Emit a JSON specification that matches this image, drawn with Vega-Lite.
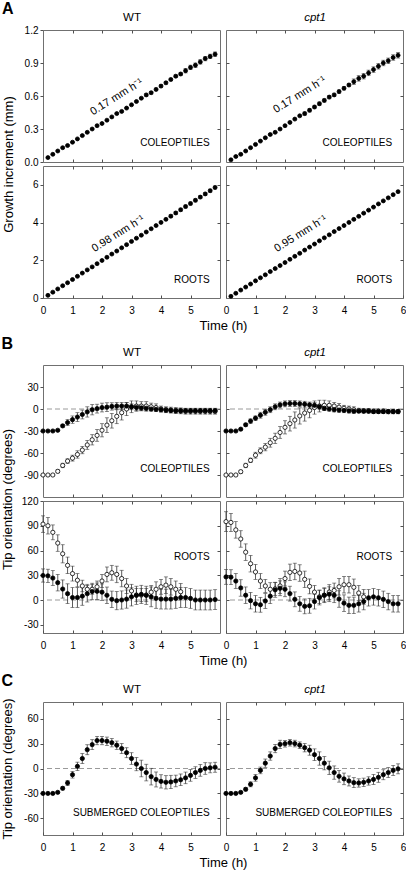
{
"$schema":"https://vega.github.io/schema/vega-lite/v6.json",
"padding":{"left":1,"top":0,"right":2,"bottom":2},
"background":"white",
"config":{
 "font":"Liberation Sans",
 "view":{"stroke":"#707070","strokeWidth":1},
 "axis":{"domain":false,"grid":false,"labelOverlap":false,"labelFlush":false,"tickCount":20,"tickColor":"#505050","tickWidth":1,"labelFont":"Liberation Sans","labelFontSize":10,"labelColor":"#000","titleFont":"Liberation Sans","titleFontSize":13,"titleFontWeight":"normal","titleColor":"#000"},
 "title":{"font":"Liberation Sans","fontSize":16,"fontWeight":"bold","offset":-5,"color":"#000","anchor":"start","frame":"bounds"},
 "text":{"font":"Liberation Sans","fontSize":10,"color":"#000"}
},
"datasets":{
"AcW":[{"s":"f","t":0.167,"v":0.04,"e":0.005},{"s":"f","t":0.333,"v":0.07,"e":0.005},{"s":"f","t":0.5,"v":0.10,"e":0.005},{"s":"f","t":0.667,"v":0.13,"e":0.005},{"s":"f","t":0.833,"v":0.15,"e":0.005},{"s":"f","t":1,"v":0.18,"e":0.005},{"s":"f","t":1.167,"v":0.21,"e":0.005},{"s":"f","t":1.333,"v":0.24,"e":0.005},{"s":"f","t":1.5,"v":0.27,"e":0.005},{"s":"f","t":1.667,"v":0.30,"e":0.005},{"s":"f","t":1.833,"v":0.33,"e":0.005},{"s":"f","t":2,"v":0.35,"e":0.005},{"s":"f","t":2.167,"v":0.38,"e":0.005},{"s":"f","t":2.333,"v":0.41,"e":0.005},{"s":"f","t":2.5,"v":0.44,"e":0.005},{"s":"f","t":2.667,"v":0.46,"e":0.005},{"s":"f","t":2.833,"v":0.49,"e":0.005},{"s":"f","t":3,"v":0.52,"e":0.005},{"s":"f","t":3.167,"v":0.55,"e":0.005},{"s":"f","t":3.333,"v":0.58,"e":0.005},{"s":"f","t":3.5,"v":0.61,"e":0.012},{"s":"f","t":3.667,"v":0.63,"e":0.012},{"s":"f","t":3.833,"v":0.66,"e":0.012},{"s":"f","t":4,"v":0.69,"e":0.012},{"s":"f","t":4.167,"v":0.72,"e":0.012},{"s":"f","t":4.333,"v":0.75,"e":0.012},{"s":"f","t":4.5,"v":0.78,"e":0.012},{"s":"f","t":4.667,"v":0.80,"e":0.012},{"s":"f","t":4.833,"v":0.83,"e":0.02},{"s":"f","t":5,"v":0.86,"e":0.02},{"s":"f","t":5.167,"v":0.88,"e":0.02},{"s":"f","t":5.333,"v":0.91,"e":0.02},{"s":"f","t":5.5,"v":0.94,"e":0.02},{"s":"f","t":5.667,"v":0.96,"e":0.02},{"s":"f","t":5.833,"v":0.98,"e":0.02}],
"AcC":[{"s":"f","t":0.167,"v":0.02,"e":0.005},{"s":"f","t":0.333,"v":0.05,"e":0.005},{"s":"f","t":0.5,"v":0.07,"e":0.005},{"s":"f","t":0.667,"v":0.10,"e":0.005},{"s":"f","t":0.833,"v":0.13,"e":0.005},{"s":"f","t":1,"v":0.16,"e":0.005},{"s":"f","t":1.167,"v":0.19,"e":0.005},{"s":"f","t":1.333,"v":0.22,"e":0.005},{"s":"f","t":1.5,"v":0.25,"e":0.005},{"s":"f","t":1.667,"v":0.27,"e":0.005},{"s":"f","t":1.833,"v":0.30,"e":0.005},{"s":"f","t":2,"v":0.33,"e":0.005},{"s":"f","t":2.167,"v":0.36,"e":0.005},{"s":"f","t":2.333,"v":0.39,"e":0.005},{"s":"f","t":2.5,"v":0.42,"e":0.005},{"s":"f","t":2.667,"v":0.44,"e":0.015},{"s":"f","t":2.833,"v":0.47,"e":0.015},{"s":"f","t":3,"v":0.50,"e":0.015},{"s":"f","t":3.167,"v":0.53,"e":0.015},{"s":"f","t":3.333,"v":0.56,"e":0.015},{"s":"f","t":3.5,"v":0.59,"e":0.015},{"s":"f","t":3.667,"v":0.61,"e":0.015},{"s":"f","t":3.833,"v":0.64,"e":0.015},{"s":"f","t":4,"v":0.67,"e":0.015},{"s":"f","t":4.167,"v":0.70,"e":0.015},{"s":"f","t":4.333,"v":0.73,"e":0.025},{"s":"f","t":4.5,"v":0.76,"e":0.025},{"s":"f","t":4.667,"v":0.78,"e":0.025},{"s":"f","t":4.833,"v":0.81,"e":0.025},{"s":"f","t":5,"v":0.84,"e":0.025},{"s":"f","t":5.167,"v":0.87,"e":0.025},{"s":"f","t":5.333,"v":0.90,"e":0.025},{"s":"f","t":5.5,"v":0.92,"e":0.025},{"s":"f","t":5.667,"v":0.95,"e":0.025},{"s":"f","t":5.833,"v":0.97,"e":0.025}],
"ArW":[{"s":"f","t":0.167,"v":0.14,"e":0.03},{"s":"f","t":0.333,"v":0.31,"e":0.03},{"s":"f","t":0.5,"v":0.48,"e":0.03},{"s":"f","t":0.667,"v":0.65,"e":0.03},{"s":"f","t":0.833,"v":0.81,"e":0.03},{"s":"f","t":1,"v":0.98,"e":0.03},{"s":"f","t":1.167,"v":1.15,"e":0.03},{"s":"f","t":1.333,"v":1.32,"e":0.03},{"s":"f","t":1.5,"v":1.49,"e":0.03},{"s":"f","t":1.667,"v":1.65,"e":0.03},{"s":"f","t":1.833,"v":1.82,"e":0.03},{"s":"f","t":2,"v":1.99,"e":0.03},{"s":"f","t":2.167,"v":2.16,"e":0.03},{"s":"f","t":2.333,"v":2.33,"e":0.03},{"s":"f","t":2.5,"v":2.49,"e":0.03},{"s":"f","t":2.667,"v":2.66,"e":0.03},{"s":"f","t":2.833,"v":2.83,"e":0.03},{"s":"f","t":3,"v":3.00,"e":0.03},{"s":"f","t":3.167,"v":3.17,"e":0.03},{"s":"f","t":3.333,"v":3.33,"e":0.03},{"s":"f","t":3.5,"v":3.50,"e":0.03},{"s":"f","t":3.667,"v":3.67,"e":0.03},{"s":"f","t":3.833,"v":3.84,"e":0.03},{"s":"f","t":4,"v":4.01,"e":0.03},{"s":"f","t":4.167,"v":4.17,"e":0.03},{"s":"f","t":4.333,"v":4.34,"e":0.08},{"s":"f","t":4.5,"v":4.51,"e":0.08},{"s":"f","t":4.667,"v":4.68,"e":0.08},{"s":"f","t":4.833,"v":4.85,"e":0.08},{"s":"f","t":5,"v":5.01,"e":0.08},{"s":"f","t":5.167,"v":5.18,"e":0.08},{"s":"f","t":5.333,"v":5.35,"e":0.08},{"s":"f","t":5.5,"v":5.52,"e":0.08},{"s":"f","t":5.667,"v":5.69,"e":0.08},{"s":"f","t":5.833,"v":5.86,"e":0.08}],
"ArC":[{"s":"f","t":0.167,"v":0.09,"e":0.03},{"s":"f","t":0.333,"v":0.25,"e":0.03},{"s":"f","t":0.5,"v":0.42,"e":0.03},{"s":"f","t":0.667,"v":0.58,"e":0.03},{"s":"f","t":0.833,"v":0.74,"e":0.03},{"s":"f","t":1,"v":0.91,"e":0.03},{"s":"f","t":1.167,"v":1.07,"e":0.03},{"s":"f","t":1.333,"v":1.23,"e":0.03},{"s":"f","t":1.5,"v":1.40,"e":0.03},{"s":"f","t":1.667,"v":1.56,"e":0.03},{"s":"f","t":1.833,"v":1.72,"e":0.03},{"s":"f","t":2,"v":1.88,"e":0.03},{"s":"f","t":2.167,"v":2.05,"e":0.03},{"s":"f","t":2.333,"v":2.21,"e":0.03},{"s":"f","t":2.5,"v":2.37,"e":0.03},{"s":"f","t":2.667,"v":2.54,"e":0.03},{"s":"f","t":2.833,"v":2.70,"e":0.03},{"s":"f","t":3,"v":2.86,"e":0.03},{"s":"f","t":3.167,"v":3.03,"e":0.03},{"s":"f","t":3.333,"v":3.19,"e":0.03},{"s":"f","t":3.5,"v":3.35,"e":0.03},{"s":"f","t":3.667,"v":3.52,"e":0.03},{"s":"f","t":3.833,"v":3.68,"e":0.03},{"s":"f","t":4,"v":3.84,"e":0.03},{"s":"f","t":4.167,"v":4.01,"e":0.03},{"s":"f","t":4.333,"v":4.17,"e":0.03},{"s":"f","t":4.5,"v":4.33,"e":0.03},{"s":"f","t":4.667,"v":4.50,"e":0.03},{"s":"f","t":4.833,"v":4.66,"e":0.03},{"s":"f","t":5,"v":4.82,"e":0.03},{"s":"f","t":5.167,"v":4.99,"e":0.03},{"s":"f","t":5.333,"v":5.15,"e":0.03},{"s":"f","t":5.5,"v":5.31,"e":0.03},{"s":"f","t":5.667,"v":5.48,"e":0.03},{"s":"f","t":5.833,"v":5.64,"e":0.03}],
"BcW":[{"s":"o","t":0,"v":-90,"e":0},{"s":"o","t":0.167,"v":-90,"e":0},{"s":"o","t":0.333,"v":-90,"e":0},{"s":"o","t":0.5,"v":-85,"e":2},{"s":"o","t":0.667,"v":-77,"e":3},{"s":"o","t":0.833,"v":-71,"e":3},{"s":"o","t":1,"v":-67,"e":4},{"s":"o","t":1.167,"v":-62,"e":5},{"s":"o","t":1.333,"v":-56,"e":5},{"s":"o","t":1.5,"v":-49,"e":6},{"s":"o","t":1.667,"v":-42,"e":7},{"s":"o","t":1.833,"v":-36,"e":8},{"s":"o","t":2,"v":-29,"e":9},{"s":"o","t":2.167,"v":-22,"e":10},{"s":"o","t":2.333,"v":-16,"e":10},{"s":"o","t":2.5,"v":-10,"e":10},{"s":"o","t":2.667,"v":-5,"e":10},{"s":"o","t":2.833,"v":0,"e":9},{"s":"o","t":3,"v":3,"e":8},{"s":"o","t":3.167,"v":4,"e":7},{"s":"o","t":3.333,"v":4,"e":6},{"s":"o","t":3.5,"v":4,"e":6},{"s":"o","t":3.667,"v":3,"e":5},{"s":"o","t":3.833,"v":2,"e":5},{"s":"o","t":4,"v":0,"e":4},{"s":"o","t":4.167,"v":-1,"e":4},{"s":"o","t":4.333,"v":-1.5,"e":4},{"s":"o","t":4.5,"v":-2,"e":4},{"s":"o","t":4.667,"v":-2.5,"e":4},{"s":"o","t":4.833,"v":-3,"e":4},{"s":"o","t":5,"v":-3,"e":4},{"s":"o","t":5.167,"v":-3,"e":4},{"s":"o","t":5.333,"v":-3,"e":4},{"s":"o","t":5.5,"v":-3,"e":4},{"s":"o","t":5.667,"v":-3,"e":4},{"s":"o","t":5.833,"v":-3,"e":4},
{"s":"f","t":0,"v":-30,"e":0},{"s":"f","t":0.167,"v":-30,"e":0},{"s":"f","t":0.333,"v":-30,"e":0},{"s":"f","t":0.5,"v":-29,"e":1},{"s":"f","t":0.667,"v":-23,"e":2},{"s":"f","t":0.833,"v":-18.5,"e":4},{"s":"f","t":1,"v":-14.5,"e":5},{"s":"f","t":1.167,"v":-11,"e":6},{"s":"f","t":1.333,"v":-7.5,"e":6},{"s":"f","t":1.5,"v":-4,"e":7},{"s":"f","t":1.667,"v":-1,"e":7},{"s":"f","t":1.833,"v":0.5,"e":6},{"s":"f","t":2,"v":2,"e":6},{"s":"f","t":2.167,"v":2.5,"e":6},{"s":"f","t":2.333,"v":3.5,"e":5},{"s":"f","t":2.5,"v":4,"e":5},{"s":"f","t":2.667,"v":4,"e":5},{"s":"f","t":2.833,"v":4,"e":5},{"s":"f","t":3,"v":3,"e":4},{"s":"f","t":3.167,"v":2,"e":4},{"s":"f","t":3.333,"v":1.5,"e":4},{"s":"f","t":3.5,"v":1,"e":4},{"s":"f","t":3.667,"v":0,"e":3},{"s":"f","t":3.833,"v":-0.5,"e":3},{"s":"f","t":4,"v":-1,"e":3},{"s":"f","t":4.167,"v":-1.5,"e":3},{"s":"f","t":4.333,"v":-2,"e":3},{"s":"f","t":4.5,"v":-2.5,"e":3},{"s":"f","t":4.667,"v":-2.5,"e":3},{"s":"f","t":4.833,"v":-2.5,"e":3},{"s":"f","t":5,"v":-2.5,"e":3},{"s":"f","t":5.167,"v":-2.5,"e":3},{"s":"f","t":5.333,"v":-2.5,"e":3},{"s":"f","t":5.5,"v":-2.5,"e":3},{"s":"f","t":5.667,"v":-2.5,"e":3},{"s":"f","t":5.833,"v":-2.5,"e":3}],
"BcC":[{"s":"o","t":0,"v":-90,"e":0},{"s":"o","t":0.167,"v":-90,"e":0},{"s":"o","t":0.333,"v":-90,"e":0},{"s":"o","t":0.5,"v":-85.5,"e":2},{"s":"o","t":0.667,"v":-77,"e":3},{"s":"o","t":0.833,"v":-70,"e":3},{"s":"o","t":1,"v":-63,"e":4},{"s":"o","t":1.167,"v":-57,"e":4},{"s":"o","t":1.333,"v":-52,"e":5},{"s":"o","t":1.5,"v":-46,"e":6},{"s":"o","t":1.667,"v":-40,"e":7},{"s":"o","t":1.833,"v":-32,"e":8},{"s":"o","t":2,"v":-25,"e":9},{"s":"o","t":2.167,"v":-20,"e":10},{"s":"o","t":2.333,"v":-15,"e":11},{"s":"o","t":2.5,"v":-9.5,"e":11},{"s":"o","t":2.667,"v":-5.5,"e":11},{"s":"o","t":2.833,"v":-2,"e":10},{"s":"o","t":3,"v":2,"e":9},{"s":"o","t":3.167,"v":4,"e":8},{"s":"o","t":3.333,"v":5,"e":7},{"s":"o","t":3.5,"v":5,"e":6},{"s":"o","t":3.667,"v":4,"e":5},{"s":"o","t":3.833,"v":2.5,"e":5},{"s":"o","t":4,"v":1,"e":4},{"s":"o","t":4.167,"v":0,"e":4},{"s":"o","t":4.333,"v":-1,"e":4},{"s":"o","t":4.5,"v":-2,"e":3},{"s":"o","t":4.667,"v":-2.5,"e":3},{"s":"o","t":4.833,"v":-2.5,"e":3},{"s":"o","t":5,"v":-3,"e":3},{"s":"o","t":5.167,"v":-3,"e":3},{"s":"o","t":5.333,"v":-3,"e":3},{"s":"o","t":5.5,"v":-3.5,"e":3},{"s":"o","t":5.667,"v":-3.5,"e":3},{"s":"o","t":5.833,"v":-3.5,"e":3},
{"s":"f","t":0,"v":-30,"e":0},{"s":"f","t":0.167,"v":-30,"e":0},{"s":"f","t":0.333,"v":-30,"e":0},{"s":"f","t":0.5,"v":-27.5,"e":1},{"s":"f","t":0.667,"v":-21.5,"e":2},{"s":"f","t":0.833,"v":-16.5,"e":3},{"s":"f","t":1,"v":-12.5,"e":3},{"s":"f","t":1.167,"v":-8.5,"e":4},{"s":"f","t":1.333,"v":-4.5,"e":4},{"s":"f","t":1.5,"v":-1,"e":4},{"s":"f","t":1.667,"v":3,"e":4},{"s":"f","t":1.833,"v":5.5,"e":4},{"s":"f","t":2,"v":7,"e":4},{"s":"f","t":2.167,"v":7.5,"e":4},{"s":"f","t":2.333,"v":7.5,"e":4},{"s":"f","t":2.5,"v":7,"e":4},{"s":"f","t":2.667,"v":6.5,"e":4},{"s":"f","t":2.833,"v":5.5,"e":4},{"s":"f","t":3,"v":5,"e":4},{"s":"f","t":3.167,"v":3,"e":3},{"s":"f","t":3.333,"v":1,"e":3},{"s":"f","t":3.5,"v":0,"e":3},{"s":"f","t":3.667,"v":-1,"e":3},{"s":"f","t":3.833,"v":-1.5,"e":3},{"s":"f","t":4,"v":-2,"e":3},{"s":"f","t":4.167,"v":-2.5,"e":3},{"s":"f","t":4.333,"v":-3,"e":3},{"s":"f","t":4.5,"v":-3,"e":2},{"s":"f","t":4.667,"v":-3,"e":2},{"s":"f","t":4.833,"v":-3,"e":2},{"s":"f","t":5,"v":-3.5,"e":2},{"s":"f","t":5.167,"v":-3.5,"e":2},{"s":"f","t":5.333,"v":-3.5,"e":2},{"s":"f","t":5.5,"v":-3.5,"e":2},{"s":"f","t":5.667,"v":-3.5,"e":2},{"s":"f","t":5.833,"v":-3.5,"e":2}],
"BrW":[{"s":"o","t":0,"v":92,"e":10},{"s":"o","t":0.167,"v":90,"e":10},{"s":"o","t":0.333,"v":82,"e":9},{"s":"o","t":0.5,"v":69,"e":10},{"s":"o","t":0.667,"v":56,"e":11},{"s":"o","t":0.833,"v":42,"e":10},{"s":"o","t":1,"v":32,"e":9},{"s":"o","t":1.167,"v":24,"e":8},{"s":"o","t":1.333,"v":17,"e":7},{"s":"o","t":1.5,"v":13,"e":6},{"s":"o","t":1.667,"v":13,"e":6},{"s":"o","t":1.833,"v":16,"e":7},{"s":"o","t":2,"v":23,"e":8},{"s":"o","t":2.167,"v":31,"e":9},{"s":"o","t":2.333,"v":33,"e":9},{"s":"o","t":2.5,"v":31,"e":10},{"s":"o","t":2.667,"v":26,"e":10},{"s":"o","t":2.833,"v":17,"e":9},{"s":"o","t":3,"v":11,"e":8},{"s":"o","t":3.167,"v":6,"e":8},{"s":"o","t":3.333,"v":6,"e":8},{"s":"o","t":3.5,"v":6,"e":8},{"s":"o","t":3.667,"v":9.5,"e":8},{"s":"o","t":3.833,"v":13,"e":9},{"s":"o","t":4,"v":16,"e":9},{"s":"o","t":4.167,"v":18,"e":10},{"s":"o","t":4.333,"v":16,"e":10},{"s":"o","t":4.5,"v":13,"e":10},{"s":"o","t":4.667,"v":10,"e":10},
{"s":"f","t":0,"v":29.7,"e":8},{"s":"f","t":0.167,"v":29.3,"e":8},{"s":"f","t":0.333,"v":26.6,"e":9},{"s":"f","t":0.5,"v":21,"e":10},{"s":"f","t":0.667,"v":13.3,"e":11},{"s":"f","t":0.833,"v":7.6,"e":12},{"s":"f","t":1,"v":3,"e":12},{"s":"f","t":1.167,"v":3,"e":12},{"s":"f","t":1.333,"v":4.6,"e":11},{"s":"f","t":1.5,"v":7.6,"e":10},{"s":"f","t":1.667,"v":10.3,"e":10},{"s":"f","t":1.833,"v":10.6,"e":10},{"s":"f","t":2,"v":9.5,"e":10},{"s":"f","t":2.167,"v":5.7,"e":10},{"s":"f","t":2.333,"v":0.8,"e":10},{"s":"f","t":2.5,"v":-0.8,"e":11},{"s":"f","t":2.667,"v":0,"e":11},{"s":"f","t":2.833,"v":1.1,"e":11},{"s":"f","t":3,"v":3.8,"e":11},{"s":"f","t":3.167,"v":5.7,"e":11},{"s":"f","t":3.333,"v":6.8,"e":11},{"s":"f","t":3.5,"v":5.7,"e":11},{"s":"f","t":3.667,"v":3.8,"e":12},{"s":"f","t":3.833,"v":1.9,"e":12},{"s":"f","t":4,"v":1.1,"e":12},{"s":"f","t":4.167,"v":1.1,"e":12},{"s":"f","t":4.333,"v":1.1,"e":12},{"s":"f","t":4.5,"v":1.9,"e":12},{"s":"f","t":4.667,"v":3,"e":12},{"s":"f","t":4.833,"v":3,"e":12},{"s":"f","t":5,"v":1.9,"e":12},{"s":"f","t":5.167,"v":0,"e":12},{"s":"f","t":5.333,"v":0,"e":12},{"s":"f","t":5.5,"v":0,"e":12},{"s":"f","t":5.667,"v":0,"e":12},{"s":"f","t":5.833,"v":0.5,"e":12}],
"BrC":[{"s":"o","t":0,"v":95,"e":12},{"s":"o","t":0.167,"v":94,"e":11},{"s":"o","t":0.333,"v":85,"e":10},{"s":"o","t":0.5,"v":74,"e":10},{"s":"o","t":0.667,"v":58,"e":10},{"s":"o","t":0.833,"v":44,"e":10},{"s":"o","t":1,"v":34,"e":9},{"s":"o","t":1.167,"v":23,"e":9},{"s":"o","t":1.333,"v":17,"e":8},{"s":"o","t":1.5,"v":13,"e":8},{"s":"o","t":1.667,"v":13.5,"e":8},{"s":"o","t":1.833,"v":17,"e":9},{"s":"o","t":2,"v":26,"e":9},{"s":"o","t":2.167,"v":33.5,"e":10},{"s":"o","t":2.333,"v":34.6,"e":10},{"s":"o","t":2.5,"v":32.7,"e":10},{"s":"o","t":2.667,"v":25,"e":10},{"s":"o","t":2.833,"v":16.5,"e":9},{"s":"o","t":3,"v":9.6,"e":8},{"s":"o","t":3.167,"v":3.8,"e":8},{"s":"o","t":3.333,"v":5.8,"e":8},{"s":"o","t":3.5,"v":9.6,"e":9},{"s":"o","t":3.667,"v":11.5,"e":9},{"s":"o","t":3.833,"v":16,"e":10},{"s":"o","t":4,"v":18.5,"e":10},{"s":"o","t":4.167,"v":18.5,"e":10},{"s":"o","t":4.333,"v":15.4,"e":10},{"s":"o","t":4.5,"v":8.5,"e":9},{"s":"o","t":4.667,"v":3.8,"e":9},
{"s":"f","t":0,"v":28,"e":9},{"s":"f","t":0.167,"v":27.7,"e":9},{"s":"f","t":0.333,"v":23,"e":9},{"s":"f","t":0.5,"v":14.6,"e":10},{"s":"f","t":0.667,"v":5.8,"e":10},{"s":"f","t":0.833,"v":-0.8,"e":10},{"s":"f","t":1,"v":-4.6,"e":10},{"s":"f","t":1.167,"v":-5.8,"e":9},{"s":"f","t":1.333,"v":-1.2,"e":9},{"s":"f","t":1.5,"v":4.6,"e":9},{"s":"f","t":1.667,"v":12.3,"e":9},{"s":"f","t":1.833,"v":14.2,"e":9},{"s":"f","t":2,"v":13,"e":9},{"s":"f","t":2.167,"v":7.7,"e":9},{"s":"f","t":2.333,"v":0.8,"e":9},{"s":"f","t":2.5,"v":-4.6,"e":9},{"s":"f","t":2.667,"v":-7.7,"e":9},{"s":"f","t":2.833,"v":-7,"e":9},{"s":"f","t":3,"v":-1.9,"e":9},{"s":"f","t":3.167,"v":3,"e":9},{"s":"f","t":3.333,"v":5.8,"e":9},{"s":"f","t":3.5,"v":7,"e":9},{"s":"f","t":3.667,"v":5.8,"e":9},{"s":"f","t":3.833,"v":1.2,"e":10},{"s":"f","t":4,"v":-3.8,"e":10},{"s":"f","t":4.167,"v":-6.5,"e":10},{"s":"f","t":4.333,"v":-6.5,"e":10},{"s":"f","t":4.5,"v":-4.6,"e":10},{"s":"f","t":4.667,"v":-1.9,"e":10},{"s":"f","t":4.833,"v":2.7,"e":10},{"s":"f","t":5,"v":3.8,"e":10},{"s":"f","t":5.167,"v":2.7,"e":10},{"s":"f","t":5.333,"v":0.8,"e":10},{"s":"f","t":5.5,"v":-1.9,"e":10},{"s":"f","t":5.667,"v":-4.6,"e":10},{"s":"f","t":5.833,"v":-4.6,"e":10}],
"CW":[{"s":"f","t":0,"v":-30,"e":0},{"s":"f","t":0.167,"v":-30,"e":0},{"s":"f","t":0.333,"v":-30,"e":0},{"s":"f","t":0.5,"v":-28.7,"e":1},{"s":"f","t":0.667,"v":-23.8,"e":2},{"s":"f","t":0.833,"v":-17.4,"e":3},{"s":"f","t":1,"v":-7.5,"e":4},{"s":"f","t":1.167,"v":2.6,"e":5},{"s":"f","t":1.333,"v":12,"e":6},{"s":"f","t":1.5,"v":22.6,"e":6},{"s":"f","t":1.667,"v":28.7,"e":6},{"s":"f","t":1.833,"v":33.6,"e":5},{"s":"f","t":2,"v":33.6,"e":5},{"s":"f","t":2.167,"v":32.8,"e":5},{"s":"f","t":2.333,"v":31,"e":5},{"s":"f","t":2.5,"v":28,"e":5},{"s":"f","t":2.667,"v":24,"e":6},{"s":"f","t":2.833,"v":19,"e":6},{"s":"f","t":3,"v":12,"e":7},{"s":"f","t":3.167,"v":5.3,"e":8},{"s":"f","t":3.333,"v":0,"e":10},{"s":"f","t":3.5,"v":-4.9,"e":10},{"s":"f","t":3.667,"v":-9.8,"e":10},{"s":"f","t":3.833,"v":-13.2,"e":9},{"s":"f","t":4,"v":-15.5,"e":8},{"s":"f","t":4.167,"v":-16.6,"e":8},{"s":"f","t":4.333,"v":-16.2,"e":8},{"s":"f","t":4.5,"v":-15,"e":7},{"s":"f","t":4.667,"v":-13.6,"e":7},{"s":"f","t":4.833,"v":-11.3,"e":7},{"s":"f","t":5,"v":-8.3,"e":7},{"s":"f","t":5.167,"v":-4.9,"e":7},{"s":"f","t":5.333,"v":-2.3,"e":7},{"s":"f","t":5.5,"v":0,"e":7},{"s":"f","t":5.667,"v":0.8,"e":6},{"s":"f","t":5.833,"v":1.5,"e":6}],
"CC":[{"s":"f","t":0,"v":-30,"e":0},{"s":"f","t":0.167,"v":-30,"e":0},{"s":"f","t":0.333,"v":-30,"e":0},{"s":"f","t":0.5,"v":-28.7,"e":1},{"s":"f","t":0.667,"v":-25,"e":2},{"s":"f","t":0.833,"v":-19,"e":3},{"s":"f","t":1,"v":-11.3,"e":4},{"s":"f","t":1.167,"v":-2.3,"e":4},{"s":"f","t":1.333,"v":6.4,"e":5},{"s":"f","t":1.5,"v":15,"e":5},{"s":"f","t":1.667,"v":24,"e":5},{"s":"f","t":1.833,"v":29,"e":5},{"s":"f","t":2,"v":29.8,"e":4},{"s":"f","t":2.167,"v":31,"e":4},{"s":"f","t":2.333,"v":30,"e":4},{"s":"f","t":2.5,"v":28,"e":4},{"s":"f","t":2.667,"v":25,"e":5},{"s":"f","t":2.833,"v":22,"e":6},{"s":"f","t":3,"v":16.6,"e":7},{"s":"f","t":3.167,"v":12,"e":8},{"s":"f","t":3.333,"v":6.4,"e":8},{"s":"f","t":3.5,"v":0.8,"e":8},{"s":"f","t":3.667,"v":-4.9,"e":8},{"s":"f","t":3.833,"v":-9.4,"e":7},{"s":"f","t":4,"v":-12.5,"e":7},{"s":"f","t":4.167,"v":-15,"e":6},{"s":"f","t":4.333,"v":-17,"e":6},{"s":"f","t":4.5,"v":-17.4,"e":5},{"s":"f","t":4.667,"v":-16.6,"e":5},{"s":"f","t":4.833,"v":-15,"e":5},{"s":"f","t":5,"v":-13.2,"e":6},{"s":"f","t":5.167,"v":-10.6,"e":6},{"s":"f","t":5.333,"v":-7.5,"e":6},{"s":"f","t":5.5,"v":-4.9,"e":6},{"s":"f","t":5.667,"v":-2.3,"e":6},{"s":"f","t":5.833,"v":-0.4,"e":6}]
},
"columns":2,
"spacing":{"row":4,"column":6},
"bounds":"flush",
"concat":[
 {"width":177,"height":132,"title":{"text":"A"},"data":{"name":"AcW"},
  "layer":[
   {"layer":[
    {"mark":{"type":"errorbar","ticks":true,"size":4,"thickness":0.8,"color":"#333"},
     "encoding":{"x":{"field":"t","type":"quantitative","scale":{"domain":[0,6]},"axis":{"orient":"bottom","values":[1,2,3,4,5],"tickCount":20,"labels":false,"tickSize":-3,"title":null}},
      "y":{"field":"v","type":"quantitative","scale":{"domain":[0,1.2]},"axis":{"orient":"left","values":[0,0.3,0.6,0.9,1.2],"tickCount":20,"format":".1f","labelOverlap":false,"tickSize":3,"labelPadding":2,"title":"Growth increment (mm)","titleY":134,"titlePadding":9}},
      "yError":{"field":"e"}}},
    {"mark":{"type":"point","size":16,"strokeWidth":0.8,"opacity":1,"stroke":"#000"},
     "encoding":{"x":{"field":"t","type":"quantitative"},"y":{"field":"v","type":"quantitative"},"fill":{"field":"s","type":"nominal","scale":{"domain":["f","o"],"range":["#000","#fff"]},"legend":null}}},
    {"data":{"values":[{"t":2.5,"v":0.59,"txt":"0.17 mm h⁻¹"}]},"mark":{"type":"text","angle":-32,"fontSize":11},
     "encoding":{"x":{"field":"t","type":"quantitative"},"y":{"field":"v","type":"quantitative"},"text":{"field":"txt"}}}
   ]},
   {"data":{"values":[{"t":5.65,"v":0.17,"txt":"COLEOPTILES"}]},"mark":{"type":"text","align":"right","fontSize":10},
    "encoding":{"x":{"field":"t","type":"quantitative","axis":{"orient":"top","values":[1,2,3,4,5],"tickCount":20,"labels":false,"tickSize":-3,"title":"WT","titleFontSize":11.5,"titlePadding":7}},
     "y":{"field":"v","type":"quantitative","axis":{"orient":"right","values":[0.3,0.6,0.9],"tickCount":20,"labels":false,"tickSize":-3,"title":null}},"text":{"field":"txt"}}}
  ],
  "resolve":{"axis":{"x":"independent","y":"independent"}}},
 {"width":177,"height":132,"data":{"name":"AcC"},
  "layer":[
   {"layer":[
    {"mark":{"type":"errorbar","ticks":true,"size":4,"thickness":0.8,"color":"#333"},
     "encoding":{"x":{"field":"t","type":"quantitative","scale":{"domain":[0,6]},"axis":{"orient":"bottom","values":[1,2,3,4,5],"tickCount":20,"labels":false,"tickSize":-3,"title":null}},
      "y":{"field":"v","type":"quantitative","scale":{"domain":[0,1.2]},"axis":{"orient":"left","values":[0.3,0.6,0.9],"tickCount":20,"labels":false,"tickSize":-3,"title":null}},
      "yError":{"field":"e"}}},
    {"mark":{"type":"point","size":16,"strokeWidth":0.8,"opacity":1,"stroke":"#000"},
     "encoding":{"x":{"field":"t","type":"quantitative"},"y":{"field":"v","type":"quantitative"},"fill":{"field":"s","type":"nominal","scale":{"domain":["f","o"],"range":["#000","#fff"]},"legend":null}}},
    {"data":{"values":[{"t":2.5,"v":0.61,"txt":"0.17 mm h⁻¹"}]},"mark":{"type":"text","angle":-32,"fontSize":11},
     "encoding":{"x":{"field":"t","type":"quantitative"},"y":{"field":"v","type":"quantitative"},"text":{"field":"txt"}}}
   ]},
   {"data":{"values":[{"t":5.63,"v":0.17,"txt":"COLEOPTILES"}]},"mark":{"type":"text","align":"right","fontSize":10},
    "encoding":{"x":{"field":"t","type":"quantitative","axis":{"orient":"top","values":[1,2,3,4,5],"tickCount":20,"labels":false,"tickSize":-3,"title":"cpt1","titleFontStyle":"italic","titleFontSize":11.5,"titlePadding":7}},
     "y":{"field":"v","type":"quantitative","axis":{"orient":"right","values":[0.3,0.6,0.9],"tickCount":20,"labels":false,"tickSize":-3,"title":null}},"text":{"field":"txt"}}}
  ],
  "resolve":{"axis":{"x":"independent","y":"independent"}}},
 {"width":177,"height":132,"data":{"name":"ArW"},
  "layer":[
   {"layer":[
    {"mark":{"type":"errorbar","ticks":true,"size":4,"thickness":0.8,"color":"#333"},
     "encoding":{"x":{"field":"t","type":"quantitative","scale":{"domain":[0,6]},"axis":{"orient":"bottom","values":[0,1,2,3,4,5],"tickCount":20,"format":"d","labelOverlap":false,"tickSize":-3,"labelPadding":10,"title":"Time (h)","titleX":180,"titlePadding":4}},
      "y":{"field":"v","type":"quantitative","scale":{"domain":[0,7]},"axis":{"orient":"left","values":[0,2,4,6],"tickCount":20,"format":"d","labelOverlap":false,"tickSize":3,"labelPadding":2,"title":null}},
      "yError":{"field":"e"}}},
    {"mark":{"type":"point","size":16,"strokeWidth":0.8,"opacity":1,"stroke":"#000"},
     "encoding":{"x":{"field":"t","type":"quantitative"},"y":{"field":"v","type":"quantitative"},"fill":{"field":"s","type":"nominal","scale":{"domain":["f","o"],"range":["#000","#fff"]},"legend":null}}},
    {"data":{"values":[{"t":2.55,"v":3.4,"txt":"0.98 mm h⁻¹"}]},"mark":{"type":"text","angle":-32,"fontSize":11},
     "encoding":{"x":{"field":"t","type":"quantitative"},"y":{"field":"v","type":"quantitative"},"text":{"field":"txt"}}}
   ]},
   {"data":{"values":[{"t":5.65,"v":0.96,"txt":"ROOTS"}]},"mark":{"type":"text","align":"right","fontSize":10},
    "encoding":{"x":{"field":"t","type":"quantitative","axis":{"orient":"top","values":[1,2,3,4,5],"tickCount":20,"labels":false,"tickSize":-3,"title":null}},
     "y":{"field":"v","type":"quantitative","axis":{"orient":"right","values":[2,4,6],"tickCount":20,"labels":false,"tickSize":-3,"title":null}},"text":{"field":"txt"}}}
  ],
  "resolve":{"axis":{"x":"independent","y":"independent"}}},
 {"width":177,"height":132,"data":{"name":"ArC"},
  "layer":[
   {"layer":[
    {"mark":{"type":"errorbar","ticks":true,"size":4,"thickness":0.8,"color":"#333"},
     "encoding":{"x":{"field":"t","type":"quantitative","scale":{"domain":[0,6]},"axis":{"orient":"bottom","values":[0,1,2,3,4,5,6],"tickCount":20,"format":"d","labelOverlap":false,"tickSize":-3,"labelPadding":10,"title":null}},
      "y":{"field":"v","type":"quantitative","scale":{"domain":[0,7]},"axis":{"orient":"left","values":[2,4,6],"tickCount":20,"labels":false,"tickSize":-3,"title":null}},
      "yError":{"field":"e"}}},
    {"mark":{"type":"point","size":16,"strokeWidth":0.8,"opacity":1,"stroke":"#000"},
     "encoding":{"x":{"field":"t","type":"quantitative"},"y":{"field":"v","type":"quantitative"},"fill":{"field":"s","type":"nominal","scale":{"domain":["f","o"],"range":["#000","#fff"]},"legend":null}}},
    {"data":{"values":[{"t":2.53,"v":3.4,"txt":"0.95 mm h⁻¹"}]},"mark":{"type":"text","angle":-32,"fontSize":11},
     "encoding":{"x":{"field":"t","type":"quantitative"},"y":{"field":"v","type":"quantitative"},"text":{"field":"txt"}}}
   ]},
   {"data":{"values":[{"t":5.63,"v":0.96,"txt":"ROOTS"}]},"mark":{"type":"text","align":"right","fontSize":10},
    "encoding":{"x":{"field":"t","type":"quantitative","axis":{"orient":"top","values":[1,2,3,4,5],"tickCount":20,"labels":false,"tickSize":-3,"title":null}},
     "y":{"field":"v","type":"quantitative","axis":{"orient":"right","values":[2,4,6],"tickCount":20,"labels":false,"tickSize":-3,"title":null}},"text":{"field":"txt"}}}
  ],
  "resolve":{"axis":{"x":"independent","y":"independent"}}},
 {"width":177,"height":59,"view":{"stroke":null},"data":{"values":[]},"mark":"text","encoding":{}},
 {"width":177,"height":59,"view":{"stroke":null},"data":{"values":[]},"mark":"text","encoding":{}},
 {"width":177,"height":132,"title":{"text":"B"},"data":{"name":"BcW"},
  "layer":[
   {"layer":[
    {"data":{"values":[{}]},"mark":{"type":"rule","strokeDash":[5,3],"color":"#808080","strokeWidth":0.8},"encoding":{"y":{"datum":0}}},
    {"mark":{"type":"errorbar","ticks":true,"size":4,"thickness":0.8,"color":"#333"},
     "encoding":{"x":{"field":"t","type":"quantitative","scale":{"domain":[0,6]},"axis":{"orient":"bottom","values":[1,2,3,4,5],"tickCount":20,"labels":false,"tickSize":-3,"title":null}},
      "y":{"field":"v","type":"quantitative","scale":{"domain":[-105,45]},"axis":{"orient":"left","values":[-90,-60,-30,0,30],"tickCount":20,"labelOverlap":false,"labelExpr":"toString(datum.value)","tickSize":3,"labelPadding":2,"title":"Tip orientation (degrees)","titleY":134,"titlePadding":9}},
      "yError":{"field":"e"}}},
    {"mark":{"type":"point","size":18,"strokeWidth":0.8,"opacity":1,"stroke":"#000"},
     "encoding":{"x":{"field":"t","type":"quantitative"},"y":{"field":"v","type":"quantitative"},"fill":{"field":"s","type":"nominal","scale":{"domain":["f","o"],"range":["#000","#fff"]},"legend":null}}}
   ]},
   {"data":{"values":[{"t":5.65,"v":-82,"txt":"COLEOPTILES"}]},"mark":{"type":"text","align":"right","fontSize":10},
    "encoding":{"x":{"field":"t","type":"quantitative","axis":{"orient":"top","values":[1,2,3,4,5],"tickCount":20,"labels":false,"tickSize":-3,"title":"WT","titleFontSize":11.5,"titlePadding":7}},
     "y":{"field":"v","type":"quantitative","axis":{"orient":"right","values":[-90,-60,-30,0,30],"tickCount":20,"labels":false,"tickSize":-3,"title":null}},"text":{"field":"txt"}}}
  ],
  "resolve":{"axis":{"x":"independent","y":"independent"}}},
 {"width":177,"height":132,"data":{"name":"BcC"},
  "layer":[
   {"layer":[
    {"data":{"values":[{}]},"mark":{"type":"rule","strokeDash":[5,3],"color":"#808080","strokeWidth":0.8},"encoding":{"y":{"datum":0}}},
    {"mark":{"type":"errorbar","ticks":true,"size":4,"thickness":0.8,"color":"#333"},
     "encoding":{"x":{"field":"t","type":"quantitative","scale":{"domain":[0,6]},"axis":{"orient":"bottom","values":[1,2,3,4,5],"tickCount":20,"labels":false,"tickSize":-3,"title":null}},
      "y":{"field":"v","type":"quantitative","scale":{"domain":[-105,45]},"axis":{"orient":"left","values":[-90,-60,-30,0,30],"tickCount":20,"labels":false,"tickSize":-3,"title":null}},
      "yError":{"field":"e"}}},
    {"mark":{"type":"point","size":18,"strokeWidth":0.8,"opacity":1,"stroke":"#000"},
     "encoding":{"x":{"field":"t","type":"quantitative"},"y":{"field":"v","type":"quantitative"},"fill":{"field":"s","type":"nominal","scale":{"domain":["f","o"],"range":["#000","#fff"]},"legend":null}}}
   ]},
   {"data":{"values":[{"t":5.63,"v":-82,"txt":"COLEOPTILES"}]},"mark":{"type":"text","align":"right","fontSize":10},
    "encoding":{"x":{"field":"t","type":"quantitative","axis":{"orient":"top","values":[1,2,3,4,5],"tickCount":20,"labels":false,"tickSize":-3,"title":"cpt1","titleFontStyle":"italic","titleFontSize":11.5,"titlePadding":7}},
     "y":{"field":"v","type":"quantitative","axis":{"orient":"right","values":[-90,-60,-30,0,30],"tickCount":20,"labels":false,"tickSize":-3,"title":null}},"text":{"field":"txt"}}}
  ],
  "resolve":{"axis":{"x":"independent","y":"independent"}}},
 {"width":177,"height":132,"data":{"name":"BrW"},
  "layer":[
   {"layer":[
    {"data":{"values":[{}]},"mark":{"type":"rule","strokeDash":[5,3],"color":"#808080","strokeWidth":0.8},"encoding":{"y":{"datum":0}}},
    {"mark":{"type":"errorbar","ticks":true,"size":4,"thickness":0.8,"color":"#333"},
     "encoding":{"x":{"field":"t","type":"quantitative","scale":{"domain":[0,6]},"axis":{"orient":"bottom","values":[0,1,2,3,4,5],"tickCount":20,"format":"d","labelOverlap":false,"tickSize":-3,"labelPadding":10,"title":"Time (h)","titleX":180,"titlePadding":4}},
      "y":{"field":"v","type":"quantitative","scale":{"domain":[-30,120]},"axis":{"orient":"left","values":[-30,0,30,60,90,120],"tickCount":20,"labelOverlap":false,"labelExpr":"toString(datum.value)","tickSize":3,"labelPadding":2,"title":null}},
      "yError":{"field":"e"}}},
    {"mark":{"type":"point","size":18,"strokeWidth":0.8,"opacity":1,"stroke":"#000"},
     "encoding":{"x":{"field":"t","type":"quantitative"},"y":{"field":"v","type":"quantitative"},"fill":{"field":"s","type":"nominal","scale":{"domain":["f","o"],"range":["#000","#fff"]},"legend":null}}}
   ]},
   {"data":{"values":[{"t":5.65,"v":52,"txt":"ROOTS"}]},"mark":{"type":"text","align":"right","fontSize":10},
    "encoding":{"x":{"field":"t","type":"quantitative","axis":{"orient":"top","values":[1,2,3,4,5],"tickCount":20,"labels":false,"tickSize":-3,"title":null}},
     "y":{"field":"v","type":"quantitative","axis":{"orient":"right","values":[0,30,60,90],"tickCount":20,"labels":false,"tickSize":-3,"title":null}},"text":{"field":"txt"}}}
  ],
  "resolve":{"axis":{"x":"independent","y":"independent"}}},
 {"width":177,"height":132,"data":{"name":"BrC"},
  "layer":[
   {"layer":[
    {"data":{"values":[{}]},"mark":{"type":"rule","strokeDash":[5,3],"color":"#808080","strokeWidth":0.8},"encoding":{"y":{"datum":0}}},
    {"mark":{"type":"errorbar","ticks":true,"size":4,"thickness":0.8,"color":"#333"},
     "encoding":{"x":{"field":"t","type":"quantitative","scale":{"domain":[0,6]},"axis":{"orient":"bottom","values":[0,1,2,3,4,5,6],"tickCount":20,"format":"d","labelOverlap":false,"tickSize":-3,"labelPadding":10,"title":null}},
      "y":{"field":"v","type":"quantitative","scale":{"domain":[-30,120]},"axis":{"orient":"left","values":[0,30,60,90],"tickCount":20,"labels":false,"tickSize":-3,"title":null}},
      "yError":{"field":"e"}}},
    {"mark":{"type":"point","size":18,"strokeWidth":0.8,"opacity":1,"stroke":"#000"},
     "encoding":{"x":{"field":"t","type":"quantitative"},"y":{"field":"v","type":"quantitative"},"fill":{"field":"s","type":"nominal","scale":{"domain":["f","o"],"range":["#000","#fff"]},"legend":null}}}
   ]},
   {"data":{"values":[{"t":5.63,"v":52,"txt":"ROOTS"}]},"mark":{"type":"text","align":"right","fontSize":10},
    "encoding":{"x":{"field":"t","type":"quantitative","axis":{"orient":"top","values":[1,2,3,4,5],"tickCount":20,"labels":false,"tickSize":-3,"title":null}},
     "y":{"field":"v","type":"quantitative","axis":{"orient":"right","values":[0,30,60,90],"tickCount":20,"labels":false,"tickSize":-3,"title":null}},"text":{"field":"txt"}}}
  ],
  "resolve":{"axis":{"x":"independent","y":"independent"}}},
 {"width":177,"height":61,"view":{"stroke":null},"data":{"values":[]},"mark":"text","encoding":{}},
 {"width":177,"height":61,"view":{"stroke":null},"data":{"values":[]},"mark":"text","encoding":{}},
 {"width":177,"height":133,"title":{"text":"C"},"data":{"name":"CW"},
  "layer":[
   {"layer":[
    {"data":{"values":[{}]},"mark":{"type":"rule","strokeDash":[5,3],"color":"#808080","strokeWidth":0.8},"encoding":{"y":{"datum":0}}},
    {"mark":{"type":"errorbar","ticks":true,"size":4,"thickness":0.8,"color":"#333"},
     "encoding":{"x":{"field":"t","type":"quantitative","scale":{"domain":[0,6]},"axis":{"orient":"bottom","values":[0,1,2,3,4,5],"tickCount":20,"format":"d","labelOverlap":false,"tickSize":-3,"labelPadding":10,"title":"Time (h)","titleX":180,"titlePadding":4}},
      "y":{"field":"v","type":"quantitative","scale":{"domain":[-75,75]},"axis":{"orient":"left","values":[-60,-30,0,30,60],"tickCount":20,"labelOverlap":false,"labelExpr":"toString(datum.value)","tickSize":3,"labelPadding":2,"title":"Tip orientation (degrees)","titlePadding":9}},
      "yError":{"field":"e"}}},
    {"mark":{"type":"point","size":18,"strokeWidth":0.8,"opacity":1,"stroke":"#000"},
     "encoding":{"x":{"field":"t","type":"quantitative"},"y":{"field":"v","type":"quantitative"},"fill":{"field":"s","type":"nominal","scale":{"domain":["f","o"],"range":["#000","#fff"]},"legend":null}}}
   ]},
   {"data":{"values":[{"t":5.65,"v":-53,"txt":"SUBMERGED COLEOPTILES"}]},"mark":{"type":"text","align":"right","fontSize":10},
    "encoding":{"x":{"field":"t","type":"quantitative","axis":{"orient":"top","values":[1,2,3,4,5],"tickCount":20,"labels":false,"tickSize":-3,"title":"WT","titleFontSize":11.5,"titlePadding":7}},
     "y":{"field":"v","type":"quantitative","axis":{"orient":"right","values":[-60,-30,0,30,60],"tickCount":20,"labels":false,"tickSize":-3,"title":null}},"text":{"field":"txt"}}}
  ],
  "resolve":{"axis":{"x":"independent","y":"independent"}}},
 {"width":177,"height":133,"data":{"name":"CC"},
  "layer":[
   {"layer":[
    {"data":{"values":[{}]},"mark":{"type":"rule","strokeDash":[5,3],"color":"#808080","strokeWidth":0.8},"encoding":{"y":{"datum":0}}},
    {"mark":{"type":"errorbar","ticks":true,"size":4,"thickness":0.8,"color":"#333"},
     "encoding":{"x":{"field":"t","type":"quantitative","scale":{"domain":[0,6]},"axis":{"orient":"bottom","values":[0,1,2,3,4,5,6],"tickCount":20,"format":"d","labelOverlap":false,"tickSize":-3,"labelPadding":10,"title":null}},
      "y":{"field":"v","type":"quantitative","scale":{"domain":[-75,75]},"axis":{"orient":"left","values":[-60,-30,0,30,60],"tickCount":20,"labels":false,"tickSize":-3,"title":null}},
      "yError":{"field":"e"}}},
    {"mark":{"type":"point","size":18,"strokeWidth":0.8,"opacity":1,"stroke":"#000"},
     "encoding":{"x":{"field":"t","type":"quantitative"},"y":{"field":"v","type":"quantitative"},"fill":{"field":"s","type":"nominal","scale":{"domain":["f","o"],"range":["#000","#fff"]},"legend":null}}}
   ]},
   {"data":{"values":[{"t":5.63,"v":-53,"txt":"SUBMERGED COLEOPTILES"}]},"mark":{"type":"text","align":"right","fontSize":10},
    "encoding":{"x":{"field":"t","type":"quantitative","axis":{"orient":"top","values":[1,2,3,4,5],"tickCount":20,"labels":false,"tickSize":-3,"title":"cpt1","titleFontStyle":"italic","titleFontSize":11.5,"titlePadding":7}},
     "y":{"field":"v","type":"quantitative","axis":{"orient":"right","values":[-60,-30,0,30,60],"tickCount":20,"labels":false,"tickSize":-3,"title":null}},"text":{"field":"txt"}}}
  ],
  "resolve":{"axis":{"x":"independent","y":"independent"}}}
]
}
